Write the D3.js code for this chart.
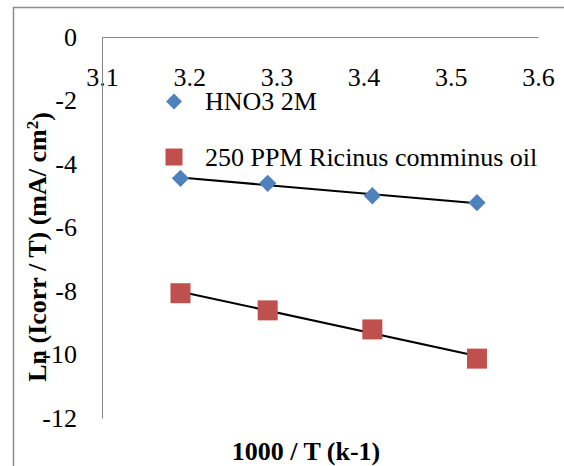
<!DOCTYPE html>
<html>
<head>
<meta charset="utf-8">
<script src="https://cdn.jsdelivr.net/npm/d3@7"></script>
<style>
  body { margin: 0; background: #fff; }
  svg text { font-family: 'Liberation Serif', 'Times New Roman', serif; fill: #000; }
  .axis path { stroke: #868686; }
</style>
</head>
<body>
<div id="chart"></div>
<script>
  // values
  var xValues = [3.19, 3.29, 3.41, 3.53];
  var hno3 = [-4.45, -4.61, -5.00, -5.22];
  var ricinus = [-8.07, -8.61, -9.21, -10.13];
  var xTicks = [3.1, 3.2, 3.3, 3.4, 3.5, 3.6];
  var yTicks = [0, -2, -4, -6, -8, -10, -12];
  var seriesNames = ['HNO3 2M', '250 PPM Ricinus comminus oil'];

  var serif = "'Liberation Serif', 'Times New Roman', serif";
  var width = 564, height = 466;
  var svg = d3.select('#chart').append('svg')
    .attr('width', width)
    .attr('height', height);

  // outer chart border (right / bottom fall outside the picture)
  svg.append('rect')
    .attr('x', 13.5).attr('y', 7.5)
    .attr('width', 700).attr('height', 600)
    .attr('fill', 'none')
    .attr('stroke', '#8c8c8c')
    .attr('stroke-width', 1.5);

  var x = d3.scaleLinear().domain([3.1, 3.6]).range([102, 538]);
  var y = d3.scaleLinear().domain([0, -12]).range([37, 418]);

  function styleTicks(g) {
    g.attr('font-family', serif).attr('font-size', 26);
    g.selectAll('text').style('font-family', serif).style('font-size', '26px');
  }

  // x axis sits on the zero line at the top, labels underneath
  svg.append('g')
    .attr('class', 'axis')
    .attr('transform', 'translate(0,' + y(0) + ')')
    .call(d3.axisBottom(x).tickValues(xTicks).tickFormat(function (d) { return d.toFixed(1); })
      .tickSize(0).tickSizeOuter(0).tickPadding(31))
    .call(styleTicks);

  svg.append('g')
    .attr('class', 'axis')
    .attr('transform', 'translate(' + x(3.1) + ',0)')
    .call(d3.axisLeft(y).tickValues(yTicks).tickFormat(function (d) { return String(d); })
      .tickSize(0).tickSizeOuter(0).tickPadding(25))
    .call(styleTicks);

  // linear trend lines
  function fit(xs, ys) {
    var n = xs.length, mx = d3.mean(xs), my = d3.mean(ys);
    var sxy = 0, sxx = 0;
    for (var i = 0; i < n; i++) {
      sxy += (xs[i] - mx) * (ys[i] - my);
      sxx += (xs[i] - mx) * (xs[i] - mx);
    }
    var b = sxy / sxx, a = my - b * mx;
    var x0 = d3.min(xs), x1 = d3.max(xs);
    return [[x0, a + b * x0], [x1, a + b * x1]];
  }

  var line = d3.line().x(function (d) { return x(d[0]); }).y(function (d) { return y(d[1]); });

  [hno3, ricinus].forEach(function (s) {
    svg.append('path')
      .attr('d', line(fit(xValues, s)))
      .attr('fill', 'none')
      .attr('stroke', '#000')
      .attr('stroke-width', 2);
  });

  var diamond = d3.symbol().type(d3.symbolDiamond2).size(190);

  // HNO3 diamonds
  svg.selectAll('.dia')
    .data(xValues.map(function (v, i) { return [v, hno3[i]]; }))
    .enter().append('path')
    .attr('class', 'dia')
    .attr('d', diamond)
    .attr('transform', function (d) { return 'translate(' + x(d[0]) + ',' + y(d[1]) + ')'; })
    .attr('fill', '#4F81BD');

  // Ricinus squares
  svg.selectAll('.sq')
    .data(xValues.map(function (v, i) { return [v, ricinus[i]]; }))
    .enter().append('rect')
    .attr('class', 'sq')
    .attr('x', function (d) { return x(d[0]) - 10; })
    .attr('y', function (d) { return y(d[1]) - 10; })
    .attr('width', 20).attr('height', 20)
    .attr('fill', '#C0504D');

  // legend
  var leg = svg.append('g');
  leg.append('path')
    .attr('d', d3.symbol().type(d3.symbolDiamond2).size(160))
    .attr('transform', 'translate(174,101.5)')
    .attr('fill', '#4F81BD');
  leg.append('rect')
    .attr('x', 165.5).attr('y', 148.5)
    .attr('width', 17).attr('height', 17)
    .attr('fill', '#C0504D');
  leg.selectAll('.lt')
    .data(seriesNames)
    .enter().append('text')
    .attr('x', 205)
    .attr('y', function (d, i) { return i === 0 ? 101.5 : 157; })
    .attr('dy', '0.33em')
    .style('font-size', '26px')
    .text(function (d) { return d; });

  // axis titles
  svg.append('text')
    .attr('x', 306).attr('y', 460)
    .attr('text-anchor', 'middle')
    .style('font-size', '26px')
    .style('font-weight', 'bold')
    .text('1000 / T (k-1)');

  var yt = svg.append('text')
    .attr('transform', 'translate(37,247) rotate(-90)')
    .attr('text-anchor', 'middle')
    .attr('dy', '0.35em')
    .style('font-size', '26px')
    .style('font-weight', 'bold');
  yt.append('tspan').text('Ln (Icorr / T) (mA/ cm');
  yt.append('tspan').attr('dy', '-0.45em').style('font-size', '17px').text('2');
  yt.append('tspan').attr('dy', '0.45em').text(')');
</script>
</body>
</html>
